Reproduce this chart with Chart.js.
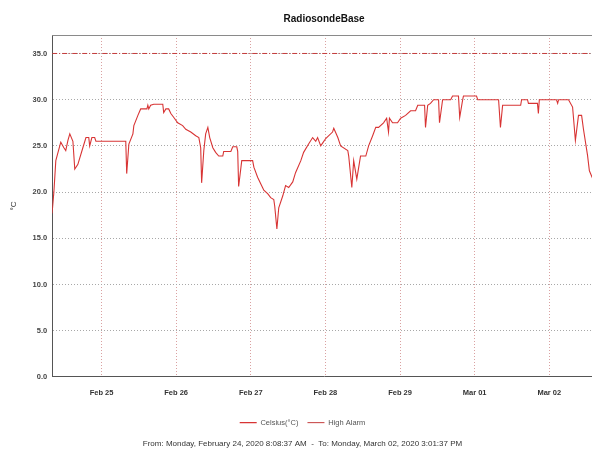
<!DOCTYPE html>
<html>
<head>
<meta charset="utf-8">
<script src="https://cdn.jsdelivr.net/npm/chart.js@4.4.1/dist/chart.umd.min.js"></script>
<style>
  html, body { margin: 0; padding: 0; background: #fff; overflow: hidden; }
  #wrap { width: 620px; height: 450px; }
</style>
</head>
<body>
<div id="wrap"><canvas id="chart" width="620" height="450"></canvas></div>
<script>
// hours since Feb 24 2020 00:00
const hours = [
  8.1, 8.7, 9.3, 10.9, 11.9, 12.5, 13.2, 13.8, 14.8, 15.4, 16.4, 18.0, 19.0, 19.9, 20.2, 20.9, 21.8, 22.2,
  31.8, 32.1, 32.8, 34.1, 34.4, 35.7, 36.6, 38.6, 38.9, 39.2, 39.8, 40.8, 43.7, 44.0, 44.7, 45.6, 46.3, 47.2,
  48.5, 50.1, 51.1, 52.7, 54.3, 55.3, 55.9, 56.2, 56.9, 57.5, 58.2, 58.8, 59.8, 60.7, 61.7, 63.0, 63.3, 65.6,
  66.2, 67.5, 67.8, 68.1, 69.1, 72.6, 73.0, 74.2, 75.2, 76.2, 77.5, 78.4, 79.4, 79.7, 80.4, 81.0, 82.3, 83.2,
  84.2, 85.5, 86.4, 88.1, 89.0, 90.6, 91.9, 92.9, 93.5, 94.5, 95.1, 96.1, 98.3, 98.7, 100.0, 100.9, 103.2,
  103.5, 104.5, 105.1, 106.1, 107.3, 109.0, 109.9, 111.2, 112.2, 113.1, 114.7, 115.7, 116.3, 116.6, 117.6,
  119.2, 120.2, 121.8, 123.4, 125.0, 125.7, 127.9, 128.2, 128.9, 129.8, 130.8, 132.4, 132.7, 133.7, 136.3,
  136.9, 138.8, 139.2, 140.1, 140.4, 144.6, 145.0, 151.7, 152.3, 153.0, 158.8, 159.1, 161.0, 161.3, 164.2,
  164.5, 164.8, 170.3, 170.7, 171.0, 174.2, 175.5, 176.4, 177.4, 178.4, 179.0, 180.3, 180.9, 181.9, 183.0
];
const celsius = [
  17.7, 20.1, 23.4, 25.4, 24.8, 24.5, 25.6, 26.3, 25.5, 22.5, 23.0, 24.8, 25.9, 25.9, 25.0, 25.9, 25.9, 25.5,
  25.5, 22.0, 25.2, 26.3, 27.2, 28.3, 29.0, 29.0, 29.4, 29.0, 29.4, 29.5, 29.5, 28.6, 29.0, 29.0, 28.5, 28.1,
  27.5, 27.2, 26.8, 26.5, 26.1, 25.9, 24.8, 21.0, 24.5, 26.3, 27.0, 25.9, 24.8, 24.3, 23.9, 23.9, 24.4, 24.4,
  24.9, 24.9, 24.4, 20.6, 23.4, 23.4, 22.7, 21.6, 20.9, 20.2, 19.8, 19.4, 19.2, 18.5, 16.0, 18.3, 19.6, 20.7,
  20.5, 21.1, 22.1, 23.4, 24.3, 25.2, 25.9, 25.5, 25.9, 25.0, 25.3, 25.8, 26.5, 26.9, 25.9, 25.0, 24.5,
  23.9, 20.5, 23.4, 21.4, 23.9, 23.9, 25.0, 26.1, 27.0, 27.0, 27.5, 28.0, 26.5, 28.0, 27.5,
  27.5, 28.0, 28.3, 28.8, 28.8, 29.4, 29.4, 27.0, 29.4, 29.6, 30.0, 30.0, 27.5, 30.0, 30.0,
  30.4, 30.4, 28.1, 29.9, 30.4, 30.4, 30.0, 30.0, 27.0, 29.4, 29.4, 30.0, 30.0, 29.6, 29.6,
  28.5, 30.0, 30.0, 29.6, 30.0, 30.0, 29.2, 25.6, 28.3, 28.3, 26.8, 24.0, 22.3, 21.5, 21.3
];
const highAlarm = 35;
const startHour = 8.14;   // Feb 24 8:08:37 AM
const endHour = 183.03;   // Mar 02 3:01:37 PM
const dayTicks = [24, 48, 72, 96, 120, 144, 168];
const dayLabels = ['Feb 25', 'Feb 26', 'Feb 27', 'Feb 28', 'Feb 29', 'Mar 01', 'Mar 02'];
const yTicks = [0, 5, 10, 15, 20, 25, 30, 35];

const font = 'Liberation Sans';

const topBorder = {
  id: 'topBorder',
  afterDatasetsDraw(chart) {
    const { ctx, chartArea } = chart;
    ctx.save();
    ctx.strokeStyle = '#8a8a8a';
    ctx.lineWidth = 1;
    ctx.beginPath();
    ctx.moveTo(chartArea.left, Math.round(chartArea.top) + 0.5);
    ctx.lineTo(chartArea.right, Math.round(chartArea.top) + 0.5);
    ctx.stroke();
    ctx.restore();
  }
};

const ctx = document.getElementById('chart').getContext('2d');
new Chart(ctx, {
  type: 'line',
  data: {
    datasets: [{
      label: 'Celsius(°C)',
      data: hours.map((h, i) => ({ x: h, y: celsius[i] })),
      borderColor: '#d83434',
      backgroundColor: '#d83434',
      borderWidth: 1.1,
      pointRadius: 0,
      tension: 0,
      pointStyle: 'line'
    }, {
      label: 'High Alarm',
      data: [{ x: startHour, y: highAlarm }, { x: endHour, y: highAlarm }],
      borderColor: '#c43c3c',
      backgroundColor: '#c43c3c',
      borderWidth: 1,
      borderDash: [5, 2, 1, 2],
      pointRadius: 0,
      pointStyle: 'line'
    }]
  },
  options: {
    responsive: false,
    animation: false,
    devicePixelRatio: 1,
    layout: { padding: { left: 9, right: 24, top: 0, bottom: 0 } },
    plugins: {
      title: {
        display: true,
        fullSize: false,
        text: 'RadiosondeBase',
        color: '#111',
        font: { family: font, size: 10, weight: 'bold' },
        padding: { top: 13, bottom: 10 }
      },
      legend: {
        position: 'bottom',
        labels: {
          usePointStyle: true,
          pointStyleWidth: 17,
          boxHeight: 6,
          color: '#555',
          font: { family: font, size: 7.5 },
          padding: 9
        }
      },
      subtitle: {
        display: true,
        position: 'bottom',
        text: 'From: Monday, February 24, 2020 8:08:37 AM  -  To: Monday, March 02, 2020 3:01:37 PM',
        color: '#333',
        font: { family: font, size: 8 },
        padding: { top: 3, bottom: 1 }
      },
      tooltip: { enabled: false }
    },
    scales: {
      x: {
        type: 'linear',
        min: startHour,
        max: endHour,
        afterBuildTicks: (scale) => { scale.ticks = dayTicks.map(v => ({ value: v })); },
        ticks: {
          callback: (v) => dayLabels[dayTicks.indexOf(v)],
          color: '#333',
          font: { family: font, size: 7.5, weight: 'bold' },
          maxRotation: 0,
          autoSkip: false,
          padding: 12
        },
        grid: { color: 'rgba(205,130,130,0.75)', drawTicks: false },
        border: { color: '#555', width: 1, dash: [1, 2] }
      },
      y: {
        min: 0,
        max: 37,
        afterBuildTicks: (scale) => { scale.ticks = yTicks.map(v => ({ value: v })); },
        ticks: {
          callback: (v) => v.toFixed(1),
          color: '#444',
          font: { family: font, size: 7.5, weight: 'bold' },
          padding: 5
        },
        grid: { color: '#a8a8a8', drawTicks: false },
        border: { color: '#555', width: 1, dash: [1, 2] },
        title: {
          display: true,
          text: '°C',
          color: '#333',
          font: { family: font, size: 8 },
          padding: { top: 0, bottom: 9 }
        }
      }
    }
  },
  plugins: [topBorder]
});
</script>
</body>
</html>
